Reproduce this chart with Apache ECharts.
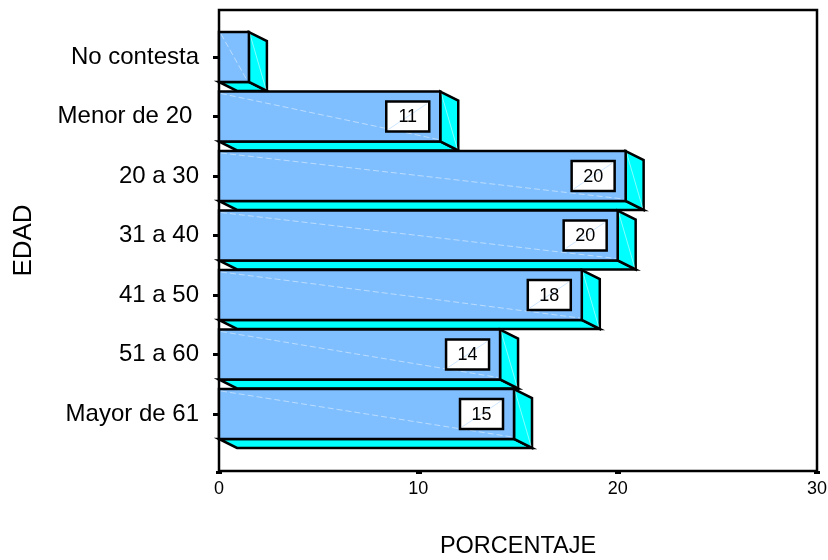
<!DOCTYPE html>
<html>
<head>
<meta charset="utf-8">
<script src="https://cdn.jsdelivr.net/npm/echarts@6/dist/echarts.min.js"></script>
<style>
  html, body { margin: 0; padding: 0; background: #fff; }
  #chart { width: 828px; height: 560px; }
</style>
</head>
<body>
<div id="chart"></div>
<script>
// Age groups (EDAD) and share of respondents in percent (PORCENTAJE)
const categories = ['No contesta', 'Menor de 20 ', '20 a 30', '31 a 40', '41 a 50', '51 a 60', 'Mayor de 61'];
const percentages = [1.5, 11.1, 20.4, 20.0, 18.2, 14.1, 14.8];
const xTicks = [0, 10, 20, 30];

const FONT = '"Liberation Sans", Arial, sans-serif';
const FRONT = '#80BFFF';
const SIDE = '#00FFFF';
const EDGE = '#000000';
const DEPTH_X = 18;
const DEPTH_Y = 9;

function renderBar(params, api) {
  const v = api.value(0);
  const idx = api.value(1);
  const start = api.coord([0, idx]);
  const end = api.coord([v, idx]);
  const band = api.size([0, 1])[1];
  const h = band * 0.84;
  const x0 = start[0], x1 = end[0];
  const top = start[1] - h / 2, bot = start[1] + h / 2;
  const edge = { stroke: EDGE, lineWidth: 2.5, lineJoin: 'miter' };
  const children = [
    { // bottom face
      type: 'polygon',
      shape: { points: [[x0, bot], [x1, bot], [x1 + DEPTH_X, bot + DEPTH_Y], [x0 + DEPTH_X, bot + DEPTH_Y]] },
      style: Object.assign({ fill: SIDE }, edge)
    },
    { // right side face
      type: 'polygon',
      shape: { points: [[x1, top], [x1 + DEPTH_X, top + DEPTH_Y], [x1 + DEPTH_X, bot + DEPTH_Y], [x1, bot]] },
      style: Object.assign({ fill: SIDE }, edge)
    },
    {
      type: 'line',
      shape: { x1: x1 + 1, y1: top + 2, x2: x1 + DEPTH_X - 1, y2: bot + DEPTH_Y - 2 },
      style: { stroke: 'rgba(255,255,255,0.5)', lineWidth: 1 }
    },
    { // front face
      type: 'rect',
      shape: { x: x0, y: top, width: x1 - x0, height: h },
      style: Object.assign({ fill: FRONT }, edge)
    },
    {
      type: 'line',
      shape: { x1: x0 + 2, y1: top + 2, x2: x1 - 2, y2: bot - 2 },
      style: { stroke: 'rgba(255,255,255,0.45)', lineWidth: 1, lineDash: [6, 3] }
    }
  ];
  if (v >= 5) {
    const bw = 43, bh = 30;
    const bx = x1 - 11 - bw, by = start[1] - bh / 2;
    children.push(
      { type: 'rect', shape: { x: bx, y: by, width: bw, height: bh },
        style: { fill: '#ffffff', stroke: EDGE, lineWidth: 2.5 } },
      { type: 'line', shape: { x1: bx + 2, y1: by + bh - 2, x2: bx + bw - 2, y2: by + 2 },
        style: { stroke: '#CFE6FF', lineWidth: 1 } },
      { type: 'text',
        style: { x: bx + bw / 2, y: start[1] + 1, text: String(Math.round(v)),
                 fill: '#000', font: '18px ' + FONT, align: 'center', verticalAlign: 'middle' } }
    );
  }
  return { type: 'group', children: children };
}

const chart = echarts.init(document.getElementById('chart'), null, { renderer: 'canvas' });
chart.setOption({
  animation: false,
  backgroundColor: '#ffffff',
  textStyle: { fontFamily: FONT },
  grid: [
    { left: 219, top: 10, width: 598, height: 461, outerBoundsMode: 'none', containLabel: false,
      show: true, borderColor: EDGE, borderWidth: 2.5, backgroundColor: '#fff' },
    { left: 219, top: 27.25, width: 598, height: 416.5, outerBoundsMode: 'none', containLabel: false }
  ],
  xAxis: [
    {
      gridIndex: 0, type: 'value', min: xTicks[0], max: xTicks[xTicks.length - 1], interval: 10,
      axisLine: { show: false },
      axisTick: { show: true, length: 3, lineStyle: { color: EDGE, width: 6 } },
      splitLine: { show: false },
      axisLabel: { color: '#000', fontSize: 18, fontFamily: FONT, margin: 9 },
      name: 'PORCENTAJE', nameLocation: 'middle', nameGap: 64,
      nameTextStyle: { color: '#000', fontSize: 23.5, fontFamily: FONT }
    },
    { gridIndex: 1, type: 'value', min: 0, max: 30, show: false }
  ],
  yAxis: [
    {
      gridIndex: 0, type: 'value', show: true,
      axisLine: { show: false }, axisTick: { show: false }, axisLabel: { show: false }, splitLine: { show: false },
      name: 'EDAD', nameLocation: 'middle', nameGap: 182, nameRotate: 90,
      nameTextStyle: { color: '#000', fontSize: 26, fontFamily: FONT }
    },
    {
      gridIndex: 1, type: 'category', data: categories, inverse: true,
      axisLine: { show: false },
      axisTick: { show: true, alignWithLabel: true, length: 6, lineStyle: { color: EDGE, width: 3 } },
      axisLabel: { color: '#000', fontSize: 24, fontFamily: FONT, margin: 20 }
    }
  ],
  series: [{
    type: 'custom',
    xAxisIndex: 1, yAxisIndex: 1,
    renderItem: renderBar,
    encode: { x: 0, y: 1 },
    data: percentages.map((p, i) => [p, i])
  }]
});
</script>
</body>
</html>
